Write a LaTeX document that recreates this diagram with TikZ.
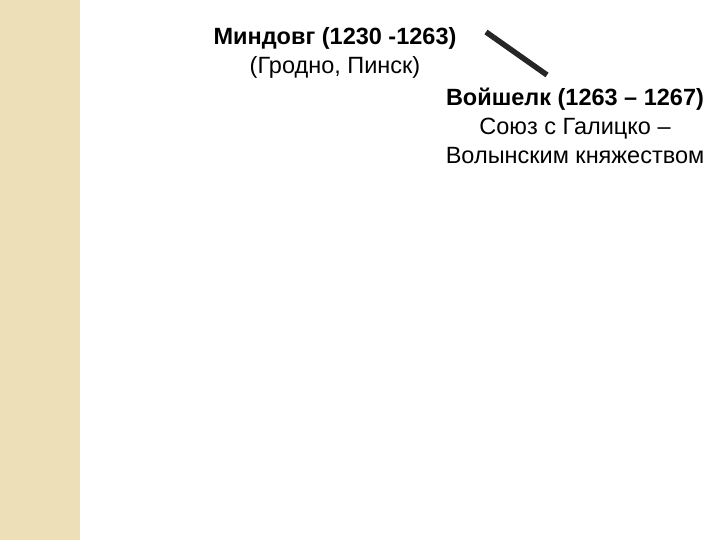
\documentclass[tikz,border=0pt]{standalone}
\usepackage{fontspec}
\setmainfont{Liberation Sans}
\usepackage{tikz}
\usetikzlibrary{positioning}

\definecolor{strip}{RGB}{237,224,185}

\begin{document}
\begin{tikzpicture}[x=1pt,y=-1pt,node distance=2cm,
    ruler/.style={align=center,font=\fontsize{23.5}{29}\selectfont,inner sep=0pt}]
    \useasboundingbox (0,0) rectangle (720,540);
    \fill[strip] (0,0) rectangle (80,540);
    \node[ruler] (mindovg) at (335,53) {\textbf{Миндовг (1230 -1263)}\\(Гродно, Пинск)};
    \node[ruler] (voishelk) at (575,126) {\textbf{Войшелк (1263 – 1267)}\\Союз с Галицко –\\Волынским княжеством};
    \coordinate (a) at (486,32);
    \coordinate (b) at (547,75);
    \draw[line width=5.5pt,black!85] (a) -- (b);
\end{tikzpicture}
\end{document}
